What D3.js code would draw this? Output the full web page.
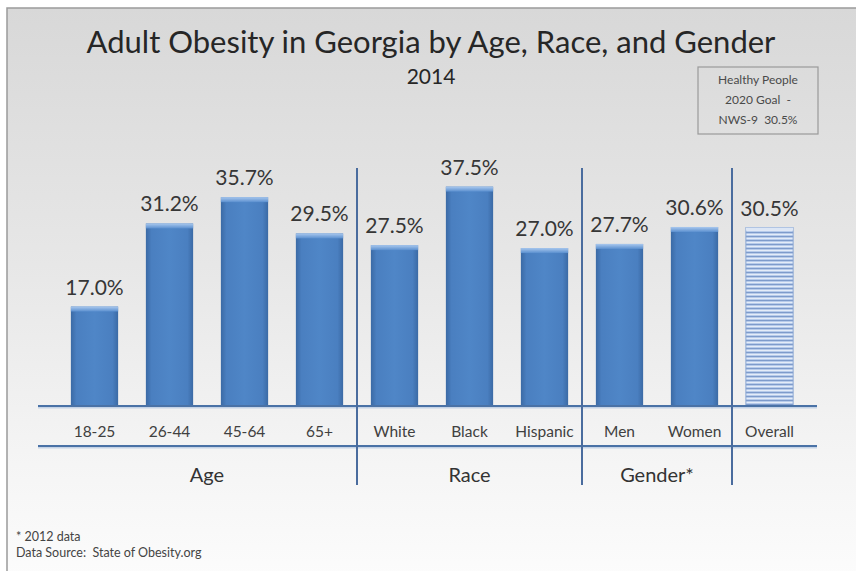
<!DOCTYPE html>
<html>
<head>
<meta charset="utf-8">
<script src="https://cdn.jsdelivr.net/npm/d3@7"></script>
<style>
  html, body { margin: 0; padding: 0; background: #ffffff; }
  svg { display: block; }
  text { font-family: Lato, "Open Sans", sans-serif; white-space: pre; }
</style>
</head>
<body>
<script>
// Adult obesity rates (%) by group
const categories = ["18-25", "26-44", "45-64", "65+", "White", "Black", "Hispanic", "Men", "Women", "Overall"];
const values = [17.0, 31.2, 35.7, 29.5, 27.5, 37.5, 27.0, 27.7, 30.6, 30.5];
const groups = ["Age", "Age", "Age", "Age", "Race", "Race", "Race", "Gender*", "Gender*", ""];
const groupNames = ["Age", "Race", "Gender*"];
const titleText = "Adult Obesity in Georgia by Age, Race, and Gender";
const subtitleText = "2014";
const goalLines = ["Healthy People", "2020 Goal  -", "NWS-9  30.5%"];
const footnotes = ["* 2012 data", "Data Source:  State of Obesity.org"];

const W = 856, H = 571;
const svg = d3.select("body").append("svg").attr("width", W).attr("height", H);
const defs = svg.append("defs");

// Panel background: grey at top fading to near white
const bg = defs.append("linearGradient").attr("id", "bg").attr("x1", 0).attr("y1", 0).attr("x2", 0).attr("y2", 1);
bg.append("stop").attr("offset", "0%").attr("stop-color", "#d8d8d8");
bg.append("stop").attr("offset", "45%").attr("stop-color", "#e7e7e7");
bg.append("stop").attr("offset", "80%").attr("stop-color", "#f5f5f5");
bg.append("stop").attr("offset", "100%").attr("stop-color", "#fcfcfc");

// Bar body shading
const barG = defs.append("linearGradient").attr("id", "barG").attr("x1", 0).attr("y1", 0).attr("x2", 1).attr("y2", 0);
[["0%", "#3b6aa5"], ["12%", "#4a7fc0"], ["50%", "#4f86c7"], ["88%", "#4a7fc0"], ["100%", "#3b6aa5"]]
  .forEach(([o, c]) => barG.append("stop").attr("offset", o).attr("stop-color", c));
const capG = defs.append("linearGradient").attr("id", "capG").attr("x1", 0).attr("y1", 0).attr("x2", 0).attr("y2", 1);
capG.append("stop").attr("offset", "0%").attr("stop-color", "#a9c8ee");
capG.append("stop").attr("offset", "100%").attr("stop-color", "#5a8fcf");

// Striped fill for the overall bar
const pat = defs.append("pattern").attr("id", "stripes").attr("patternUnits", "userSpaceOnUse")
  .attr("width", 8).attr("height", 4);
pat.append("rect").attr("width", 8).attr("height", 4).attr("fill", "#b7cbea");
pat.append("rect").attr("y", 0).attr("width", 8).attr("height", 1).attr("fill", "#7e9bcb");
pat.append("rect").attr("y", 2).attr("width", 8).attr("height", 1).attr("fill", "#e4ecf8");

// Frame (runs off the right and bottom edges)
svg.append("rect").attr("x", 7).attr("y", 8).attr("width", W).attr("height", H)
  .attr("fill", "url(#bg)").attr("stroke", "#9a9a9a").attr("stroke-width", 1.5);

// Scales
const x = d3.scaleBand().domain(categories).range([57, 807]).paddingInner(0.37).paddingOuter(0.185);
const y = d3.scaleLinear().domain([0, 40]).range([406, 172]);

// Title
svg.append("text").attr("x", 431).attr("y", 53).attr("text-anchor", "middle")
  .attr("font-size", 31).attr("fill", "#262626").text(titleText);
svg.append("text").attr("x", 431).attr("y", 84).attr("text-anchor", "middle")
  .attr("font-size", 21).attr("fill", "#262626").text(subtitleText);

// Goal box
const box = svg.append("g");
box.append("rect").attr("x", 698).attr("y", 67).attr("width", 120).attr("height", 67)
  .attr("fill", "none").attr("stroke", "#9a9a9a").attr("stroke-width", 1.2);
box.selectAll("text").data(goalLines).join("text")
  .attr("x", 758).attr("y", (d, i) => 84 + i * 20).attr("text-anchor", "middle")
  .attr("font-size", 12).attr("fill", "#4a4a4a").text(d => d);

// Bars
const isOverall = d => d === "Overall";
const bars = svg.append("g");
categories.forEach((c, i) => {
  const v = values[i];
  const bx = x(c), bw = x.bandwidth(), by = y(v), bh = y(0) - y(v);
  if (isOverall(c)) {
    bars.append("rect").attr("x", bx).attr("y", by).attr("width", bw).attr("height", bh)
      .attr("fill", "url(#stripes)").attr("stroke", "#8ba7d3").attr("stroke-width", 1);
    bars.append("rect").attr("x", bx).attr("y", by).attr("width", bw).attr("height", 3)
      .attr("fill", "#dce6f5");
  } else {
    bars.append("rect").attr("x", bx).attr("y", by).attr("width", bw).attr("height", bh)
      .attr("fill", "url(#barG)");
    bars.append("rect").attr("x", bx).attr("y", by).attr("width", bw).attr("height", 5)
      .attr("fill", "url(#capG)");
  }
});

// Value labels
svg.append("g").selectAll("text").data(categories).join("text")
  .attr("x", d => x(d) + x.bandwidth() / 2)
  .attr("y", (d, i) => y(values[i]) - 12)
  .attr("text-anchor", "middle").attr("font-size", 21).attr("fill", "#363636")
  .text((d, i) => values[i].toFixed(1) + "%");

// Axis rules
const lineX0 = x.range()[0] - 19, lineX1 = x.range()[1] + 10;
const rule = (yy) => {
  svg.append("line").attr("x1", lineX0).attr("x2", lineX1).attr("y1", yy + 1.5).attr("y2", yy + 1.5)
    .attr("stroke", "#c5d3e6").attr("stroke-width", 2);
  svg.append("line").attr("x1", lineX0).attr("x2", lineX1).attr("y1", yy).attr("y2", yy)
    .attr("stroke", "#4a72a6").attr("stroke-width", 2.2);
};
rule(y(0));
rule(446);

// Category tick labels
const xAxis = svg.append("g").attr("transform", `translate(0,${y(0)})`)
  .call(d3.axisBottom(x).tickSize(0).tickPadding(0));
xAxis.select(".domain").remove();
xAxis.selectAll("text").attr("dy", null).attr("y", 31)
  .attr("font-size", 15.5).attr("font-family", "Lato, 'Open Sans', sans-serif").attr("fill", "#404040");

// Group separators and names
const sepAfter = [];
for (let i = 1; i < categories.length; i++) {
  if (groups[i] !== groups[i - 1]) sepAfter.push(i);
}
sepAfter.forEach(i => {
  const sx = (x(categories[i - 1]) + x.bandwidth() + x(categories[i])) / 2;
  svg.append("line").attr("x1", sx).attr("x2", sx).attr("y1", 168).attr("y2", 485)
    .attr("stroke", "#4a6c9e").attr("stroke-width", 2);
});
groupNames.forEach(g => {
  const members = categories.filter((c, i) => groups[i] === g);
  const first = members[0], last = members[members.length - 1];
  const i0 = categories.indexOf(first), i1 = categories.indexOf(last);
  const left = i0 === 0 ? x.range()[0] : (x(categories[i0 - 1]) + x.bandwidth() + x(first)) / 2;
  const right = (x(last) + x.bandwidth() + x(categories[i1 + 1])) / 2;
  svg.append("text").attr("x", (left + right) / 2).attr("y", 482).attr("text-anchor", "middle")
    .attr("font-size", 20).attr("fill", "#333").text(g);
});

// Footnotes
svg.selectAll("text.foot").data(footnotes).join("text").attr("class", "foot")
  .attr("x", 16).attr("y", (d, i) => 541 + i * 16)
  .attr("font-size", 12.5).attr("fill", "#444").text(d => d);
</script>
</body>
</html>
